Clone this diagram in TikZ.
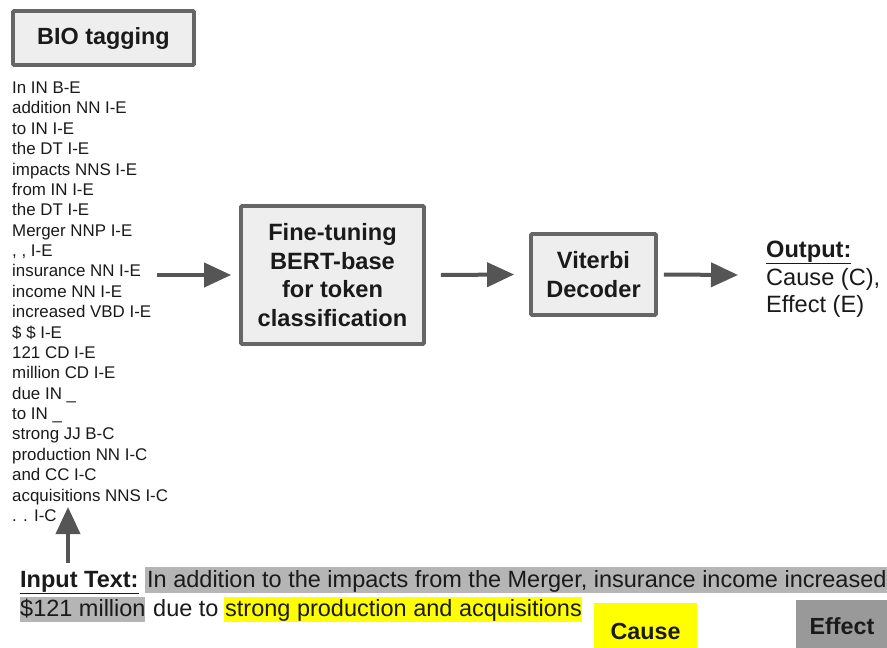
\documentclass[tikz,border=0pt]{standalone}
\usepackage{fontspec}
\setmainfont{Liberation Sans}
\usetikzlibrary{arrows.meta}
\definecolor{boxfill}{HTML}{EEEEEE}
\definecolor{boxline}{HTML}{666666}
\definecolor{arr}{HTML}{555555}
\definecolor{hlgray}{HTML}{B5B5B5}
\definecolor{effgray}{HTML}{999999}
\definecolor{hlyellow}{HTML}{FFFF00}
\definecolor{txt}{HTML}{1A1A1A}
\tikzset{
  procbox/.style={draw=boxline, line width=3.8pt, fill=boxfill, rounded corners=1pt, inner sep=0pt, align=center, font=\bfseries\fontsize{23.6}{28.5}\selectfont, text=txt},
  flowarrow/.style={draw=arr, line width=4pt, -{Triangle[length=27pt,width=24pt]}},
  tagline/.style={anchor=base west, inner sep=0pt, font=\fontsize{16.9}{18}\selectfont, text=txt},
  bigtxt/.style={inner sep=0pt, font=\fontsize{23.6}{27}\selectfont, text=txt},
  intxt/.style={inner sep=0pt, font=\fontsize{23.5}{26}\selectfont, text=txt},
  legbold/.style={inner sep=0pt, font=\bfseries\fontsize{23.3}{26}\selectfont, text=txt},
}
\begin{document}
\begin{tikzpicture}[x=1pt,y=-1pt]
\useasboundingbox (0,0) rectangle (887,648);
% BIO tagging
\node[procbox, minimum width=181pt, minimum height=54pt, font=\bfseries\fontsize{23.4}{26}\selectfont] (bio) at (103.5,38) {BIO tagging};
% tag list
\foreach \t [count=\i] in {In IN B-E, addition NN I-E, to IN I-E, the DT I-E, impacts NNS I-E, from IN I-E, the DT I-E, Merger NNP I-E, {, , I-E}, insurance NN I-E, income NN I-E, increased VBD I-E, \$ \$ I-E, 121 CD I-E, million CD I-E, due IN \_, to IN \_, strong JJ B-C, production NN I-C, and CC I-C, acquisitions NNS I-C, . . I-C}
  \node[tagline] (l\i) at (12,{93.5+(\i-1)*20.38}) {\t};
% main boxes
\node[procbox, minimum width=183pt, minimum height=138pt] (bert) at (332.5,275) {Fine-tuning\\BERT-base\\for token\\classification};
\node[procbox, minimum width=125pt, minimum height=81pt] (vit) at (593.5,274.5) {Viterbi\\Decoder};
% output
\node[bigtxt, anchor=base west, font=\bfseries\fontsize{23.6}{27}\selectfont] (outl) at (766,257) {\underline{Output:}};
\node[bigtxt, anchor=base west] (outc) at (766,285) {Cause (C),};
\node[bigtxt, anchor=base west] (oute) at (766,312) {Effect (E)};
% arrows
\coordinate (a1) at (157,275);
\draw[flowarrow] (a1) -- ([xshift=-8pt]bert.west);
\draw[flowarrow] ([xshift=15pt]bert.east) coordinate (a2) -- ([xshift=-15pt]vit.west);
\draw[flowarrow] ([xshift=6pt]vit.east) coordinate (a3) -- (738,275) coordinate (a3e);
\coordinate (up0) at (68,563);
\coordinate (up1) at (68,507);
\draw[flowarrow] (up0) -- (up1);
% input text
\fill[hlgray] (145,567) rectangle (887,593);
\fill[hlgray] (20,597) rectangle (145,622);
\fill[hlyellow] (224,597) rectangle (582,622);
\node[intxt, anchor=base west, font=\bfseries\fontsize{23.5}{26}\selectfont] (inl) at (20,587) {\underline{Input Text:}};
\node[intxt, anchor=base west] (in1) at (147,587) {In addition to the impacts from the Merger, insurance income increased};
\node[intxt, anchor=base west] (in2) at (20,616) {\$121 million};
\node[intxt, anchor=base west] (in3) at (153,616) {due to};
\node[intxt, anchor=base west] (in4) at (225,616) {strong production and acquisitions};
% legend boxes
\fill[hlyellow] (594,603) rectangle (697,648);
\node[legbold] (cause) at (645.5,631) {Cause};
\fill[effgray] (796,600) rectangle (887,648);
\node[legbold] (effect) at (842,626) {Effect};
\end{tikzpicture}
\end{document}
